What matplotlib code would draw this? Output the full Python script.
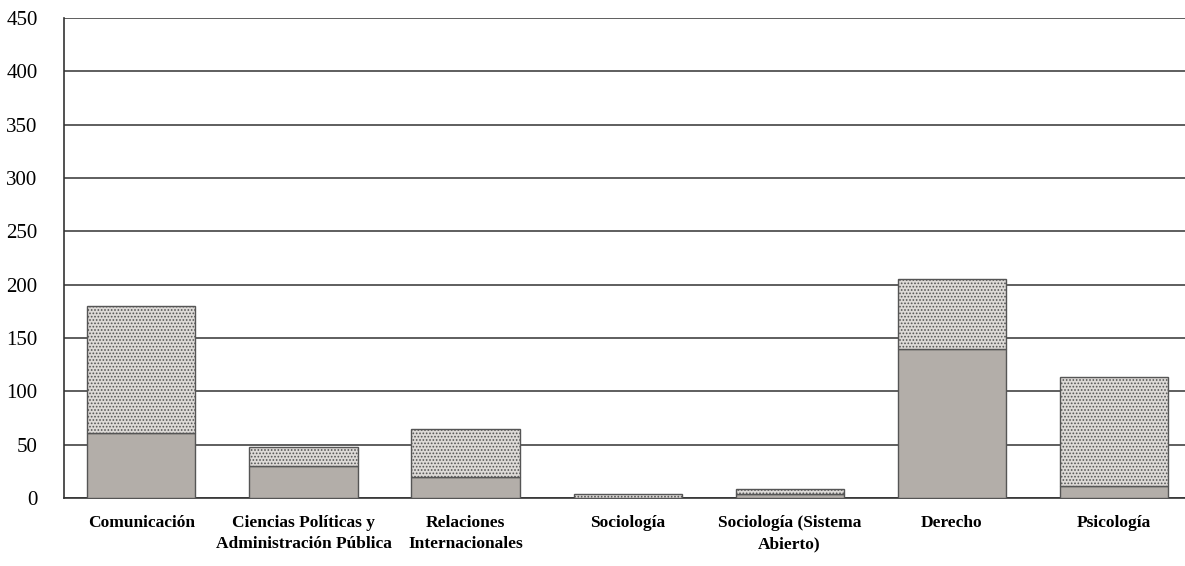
import matplotlib
matplotlib.use("Agg")
import matplotlib.pyplot as plt
import numpy as np

categories = [
    "Comunicación",
    "Ciencias Políticas y\nAdministración Pública",
    "Relaciones\nInternacionales",
    "Sociología",
    "Sociología (Sistema\nAbierto)",
    "Derecho",
    "Psicología",
]
lower_values = [61, 30, 20, 0, 4, 140, 11]
totals = [180, 48, 65, 4, 8, 205, 113]
upper_values = [t - l for t, l in zip(totals, lower_values)]
y_ticks = [0, 50, 100, 150, 200, 250, 300, 350, 400, 450]

plt.rcParams["hatch.linewidth"] = 0.8
plt.rcParams["hatch.color"] = "#8a8683"

fig = plt.figure(figsize=(11.85, 5.66), dpi=100)
ax = fig.add_axes([64 / 1185, 68 / 566, 1 - 64 / 1185, 480 / 566])

x = np.arange(len(categories))
ax.bar(x, lower_values, width=0.667, color="#b3aea9", edgecolor="#555555",
       linewidth=1.0, zorder=3)
ax.bar(x, upper_values, bottom=lower_values, width=0.667, color="#dddad7",
       edgecolor="#555555", linewidth=1.0, hatch=".....", zorder=3)

ax.set_xlim(-0.478, 6.44)
ax.set_ylim(0, 450)
ax.set_yticks(y_ticks)
ax.yaxis.grid(True, color="#333333", linewidth=1.1, zorder=0)
ax.set_axisbelow(True)
for side in ["top", "right"]:
    ax.spines[side].set_visible(False)
ax.spines["left"].set_color("#333333")
ax.spines["bottom"].set_color("#333333")
ax.spines["left"].set_linewidth(1.2)
ax.spines["bottom"].set_linewidth(1.2)
ax.tick_params(axis="both", length=0)
ax.tick_params(axis="y", pad=19)
ax.tick_params(axis="x", pad=12)

ax.set_xticks(x)
ax.set_xticklabels(categories, fontfamily="Liberation Serif", fontweight="bold",
                   fontsize=12.5, linespacing=1.45)
for lbl in ax.get_yticklabels():
    lbl.set_fontfamily("Liberation Serif")
    lbl.set_fontsize(15)

fig.savefig("out.png", dpi=100)
